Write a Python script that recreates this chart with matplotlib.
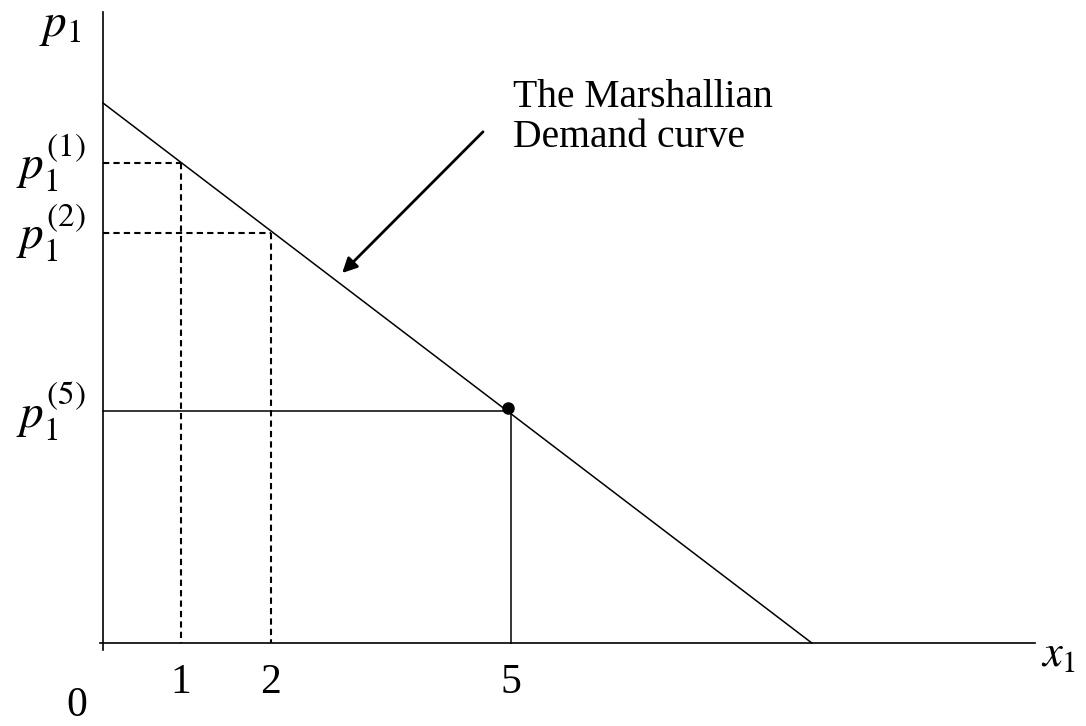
import numpy as np
import matplotlib
matplotlib.use("Agg")
import matplotlib.pyplot as plt

plt.rcParams['font.family'] = ['Liberation Serif', 'DejaVu Serif']
plt.rcParams['mathtext.fontset'] = 'stix'

# demand line end points (price intercept, quantity intercept)
p_intercept = 6.75
q_intercept = 8.86

# quantities marked on the x axis and the matching prices on the curve
q_marks = [0.975, 2.1, 5.1]
q_labels = ["1", "2", "5"]
p_marks = [6.0, 5.125, 2.9]
p_labels = [r"$p_1^{(1)}$", r"$p_1^{(2)}$", r"$p_1^{(5)}$"]
guide_styles = [(0, (3, 2)), (0, (3, 2)), "-"]

dot = (5.06, 2.94)

fig = plt.figure(figsize=(10.86, 7.26), dpi=100)
ax = fig.add_axes([0, 0, 1, 1])
ax.set_xlim(-103 / 80, (1086 - 103) / 80)
ax.set_ylim(-(726 - 643) / 80, 643 / 80)
ax.axis("off")

# axes
ax.plot([0, 0], [-0.09, 7.89], color="black", lw=1.2)
ax.plot([-0.04, 11.65], [0, 0], color="black", lw=1.2)

# demand curve
ax.plot([0, q_intercept], [p_intercept, 0], color="black", lw=1.1)

# guide lines
for q, p, ls in zip(q_marks, p_marks, guide_styles):
    lw = 1.5 if ls != "-" else 1.1
    ax.plot([0, q], [p, p], color="black", lw=lw, ls=ls)
    ax.plot([q, q], [p, 0], color="black", lw=lw, ls=ls)

ax.plot(*dot, "o", color="black", markersize=8)

# labels
ax.text(-0.54, 7.7, r"$p_1$", fontsize=34, ha="center", va="center")
for p, lab in zip(p_marks, p_labels):
    ax.text(-0.22, p, lab, fontsize=34, ha="right", va="center")
for q, lab in zip(q_marks, q_labels):
    ax.text(q, -0.5, lab, fontsize=30, ha="center", va="center")
ax.text(-0.33, -0.78, "0", fontsize=30, ha="center", va="center")
ax.text(11.73, -0.15, r"$x_1$", fontsize=32, ha="left", va="center")

ax.text(5.12, 7.05, "The Marshallian\nDemand curve", fontsize=28.5,
        ha="left", va="top", linespacing=1.12)
ax.annotate("", xy=(2.99, 4.625), xytext=(4.75, 6.39),
            arrowprops=dict(arrowstyle="-|>", color="black", lw=2,
                            mutation_scale=22, shrinkA=0, shrinkB=0))

fig.savefig("out.png", dpi=100)
